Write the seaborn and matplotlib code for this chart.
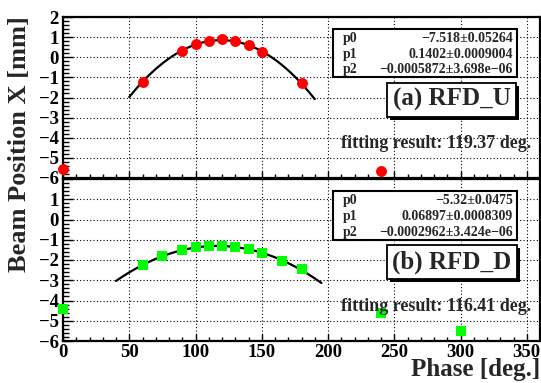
import numpy as np
import pandas as pd
import matplotlib
matplotlib.use("Agg")
import matplotlib.pyplot as plt
import matplotlib.patheffects as pe
from matplotlib.patches import Rectangle
from matplotlib.ticker import MultipleLocator, FixedLocator
import seaborn as sns

# ---------------- data ----------------
phase_u = [0, 60, 90, 100, 110, 120, 130, 140, 150, 180, 240]
pos_u = [-5.55, -1.22, 0.32, 0.67, 0.82, 0.89, 0.79, 0.61, 0.28, -1.30, -5.64]
phase_d = [0, 60, 75, 90, 100, 110, 120, 130, 140, 150, 165, 180, 240, 300]
pos_d = [-4.40, -2.26, -1.81, -1.52, -1.38, -1.30, -1.30, -1.35, -1.47, -1.63,
         -2.03, -2.46, -4.62, -5.52]

fit_u = [-7.518, 0.1402, -0.0005872]
fit_u_txt = ["\u22127.518\u00b10.05264", "0.1402\u00b10.0009004", "\u22120.0005872\u00b13.698e\u221206"]
fit_u_range = [50, 190]
fit_d = [-5.32, 0.06897, -0.0002962]
fit_d_txt = ["\u22125.32\u00b10.0475", "0.06897\u00b10.0008309", "\u22120.0002962\u00b13.424e\u221206"]
fit_d_range = [40, 195]

labels = ["(a) RFD_U", "(b) RFD_D"]
results = ["fitting result: 119.37 deg.", "fitting result: 116.41 deg."]
param_names = ["p0", "p1", "p2"]
x_ticks = [0, 50, 100, 150, 200, 250, 300, 350]

# ---------------- style ----------------
sns.set_style("ticks")
plt.rcParams["font.family"] = ["Liberation Serif", "DejaVu Serif"]
plt.rcParams["font.weight"] = "bold"
plt.rcParams["axes.unicode_minus"] = True

W, H = 541, 383
fig = plt.figure(figsize=(W / 100, H / 100), dpi=100)

def frac(x0, y0, x1, y1):
    return [x0 / W, 1 - y1 / H, (x1 - x0) / W, (y1 - y0) / H]

ax_u = fig.add_axes(frac(63, 17, 540, 178))
ax_d = fig.add_axes(frac(63, 179, 540, 341))

panels = [
    (ax_u, phase_u, pos_u, fit_u, fit_u_txt, fit_u_range, "#ff0000", "o", 62, labels[0], results[0]),
    (ax_d, phase_d, pos_d, fit_d, fit_d_txt, fit_d_range, "#00ff00", "s", 48, labels[1], results[1]),
]

for i, (ax, px, py, fp, ftxt, frng, col, mk, ms, lab, res) in enumerate(panels):
    ax.set_xlim(0, 360)
    ax.set_ylim(-6, 2)
    ax.xaxis.set_major_locator(FixedLocator(x_ticks))
    ax.xaxis.set_minor_locator(MultipleLocator(10))
    ax.yaxis.set_major_locator(MultipleLocator(1))
    ax.yaxis.set_minor_locator(MultipleLocator(0.2))
    ax.grid(True, which="major", color="black", linestyle=(0, (1, 2)), linewidth=0.8)
    ax.set_axisbelow(True)

    # fit curve from displayed parameters
    xf = np.linspace(frng[0], frng[1], 200)
    df_fit = pd.DataFrame({"x": xf, "y": fp[0] + fp[1] * xf + fp[2] * xf ** 2})
    sns.lineplot(data=df_fit, x="x", y="y", ax=ax, color="black", linewidth=1.6, zorder=3)

    df = pd.DataFrame({"phase": px, "pos": py})
    sns.scatterplot(data=df, x="phase", y="pos", ax=ax, color=col, marker=mk,
                    s=ms, linewidth=0, zorder=4, clip_on=False)

    ax.set_xlabel("")
    ax.set_ylabel("")
    for sp in ax.spines.values():
        sp.set_visible(True)
        sp.set_linewidth(1.6)
        sp.set_color("black")
    ax.tick_params(axis="both", which="both", direction="in", top=False, right=False,
                   labelsize=13.5, colors="black")
    ax.tick_params(axis="y", which="major", length=7, width=1, pad=3)
    ax.tick_params(axis="y", which="minor", length=4, width=1)
    ax.tick_params(axis="x", which="major", length=5, width=1, pad=2)
    ax.tick_params(axis="x", which="minor", length=3, width=1)

    ax.set_yticks([2, 1, 0, -1, -2, -3, -4, -5, -6])
    if i == 0:
        ax.tick_params(axis="x", labelbottom=False)
    else:
        ax.set_yticklabels(["", "1", "0", "\u22121", "\u22122", "\u22123", "\u22124", "\u22125", "\u22126"])
    for t in ax.get_yticklabels() + ax.get_xticklabels():
        t.set_fontweight("bold")

    # parameter box
    rect = Rectangle((0.566, 0.625), 0.386, 0.30, transform=ax.transAxes,
                     facecolor="white", edgecolor="black", linewidth=1.5, zorder=5)
    ax.add_patch(rect)
    for k, yy in enumerate([0.865, 0.768, 0.671]):
        ax.text(0.587, yy, param_names[k], transform=ax.transAxes, fontsize=10,
                fontweight="bold", ha="left", va="center", zorder=6)
        ax.text(0.943, yy, ftxt[k], transform=ax.transAxes, fontsize=10,
                fontweight="bold", ha="right", va="center", zorder=6)

    # label box with shadow
    t = ax.text(0.815, 0.487, lab, transform=ax.transAxes, fontsize=18,
                fontweight="bold", ha="center", va="center", zorder=6,
                bbox=dict(boxstyle="square,pad=0.22", facecolor="white",
                          edgecolor="black", linewidth=1.3))
    t.get_bbox_patch().set_path_effects([
        pe.SimplePatchShadow(offset=(2.2, -2.2), shadow_rgbFace="black", alpha=1.0),
        pe.Normal()])

    ax.text(0.782, 0.215, res, transform=ax.transAxes, fontsize=13,
            fontweight="bold", ha="center", va="center", zorder=6)

fig.text(20 / W, 1 - 144 / H, "Beam Position X [mm]", rotation=90, fontsize=19,
         fontweight="bold", ha="center", va="center")
fig.text(540 / W, 1 - 376 / H, "Phase [deg.]", fontsize=18, fontweight="bold",
         ha="right", va="baseline")

fig.savefig("out.png", dpi=100)
